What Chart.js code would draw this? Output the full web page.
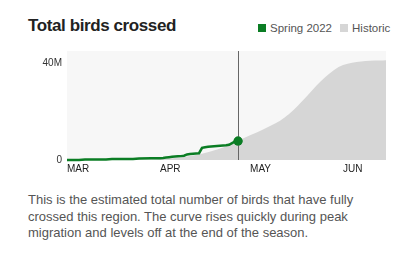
<!DOCTYPE html>
<html>
<head>
<meta charset="utf-8">
<script src="https://cdn.jsdelivr.net/npm/chart.js@4"></script>
<style>
  html, body { margin: 0; padding: 0; background: #fff; }
  body { width: 418px; height: 262px; position: relative; overflow: hidden;
         font-family: "Liberation Sans", Arial, Helvetica, sans-serif; }
  #title { position: absolute; left: 28px; top: 16px; font-size: 17px; font-weight: bold;
           color: #222; letter-spacing: -0.4px; }
  #legend { position: absolute; left: 258px; top: 22px; font-size: 11.5px; color: #555;
            white-space: nowrap; }
  #legend span.sw { display: inline-block; width: 8px; height: 8px; margin-right: 4px;
                    vertical-align: 0px; }
  #legend span.item { margin-right: 8px; }
  #wrap { position: absolute; left: 0; top: 40px; width: 400px; height: 140px; }
  #desc { position: absolute; left: 28px; top: 192px; width: 332px; font-size: 13px;
          line-height: 16.7px; color: #555; }
</style>
</head>
<body>
<div id="title">Total birds crossed</div>
<div id="legend"><span class="item"><span class="sw" style="background:#0b7d24"></span>Spring 2022</span><span><span class="sw" style="background:#d6d6d6"></span>Historic</span></div>
<div id="wrap"><canvas id="birdsChart"></canvas></div>
<div id="desc">This is the estimated total number of birds that have fully crossed this region. The curve rises quickly during peak migration and levels off at the end of the season.</div>

<script>
// dias desde el 1 de marzo
const monthLabels = ["MAR", "APR", "MAY", "JUN"];
const monthStarts = [0, 31, 61, 92];
const yTicks = [0, 40e6];
const todayDay = 57;

const springDays = [0, 4, 6, 13, 15, 22, 24, 28, 31, 32, 33, 34, 35, 36, 37, 38, 39, 40, 41, 42, 43, 44,
  45, 46, 47, 48, 49, 50, 51, 52, 53, 54, 55, 56, 57];
const springTotals = [0, 0.05, 0.2, 0.25, 0.4, 0.45, 0.65, 0.7, 0.75, 0.85, 1.0, 1.15, 1.3, 1.4, 1.5, 1.6, 1.75, 2.3, 2.5, 2.6, 2.7, 2.8,
  5.0, 5.3, 5.5, 5.6, 5.7, 5.8, 5.9, 6.0, 6.1, 6.3, 7.0, 7.7, 7.8].map(v => v * 1e6);

const histDays = [0, 10, 20, 25, 30, 35, 40, 45, 50, 54, 57, 61, 65, 68, 71, 74, 77, 80, 83, 86, 89, 92, 95, 98, 101, 104, 106.3];
const histTotals = [0, 0.02, 0.1, 0.2, 0.35, 0.7, 1.4, 2.6, 4.3, 6.2, 8.0, 10.2, 12.4, 14.2, 16.2, 19.0, 22.5, 26.4, 30.5, 34.2,
  37.2, 39.2, 40.2, 40.7, 41.0, 41.1, 41.2].map(v => v * 1e6);

const green = "#0b7d24";

document.addEventListener("DOMContentLoaded", () => {
  Chart.defaults.font.family = '"Liberation Sans", Arial, Helvetica, sans-serif';

  // fondo del area y linea de "hoy"
  const extras = {
    id: "extras",
    beforeDraw(chart) {
      const a = chart.chartArea;
      const c = chart.ctx;
      c.save();
      c.fillStyle = "#f7f7f7";
      c.fillRect(a.left, a.top, a.right - a.left, a.bottom - a.top);
      c.restore();
    },
    afterDatasetsDraw(chart) {
      const a = chart.chartArea;
      const c = chart.ctx;
      const x = Math.round(chart.scales.x.getPixelForValue(todayDay)) + 0.5;
      c.save();
      c.strokeStyle = "#666";
      c.lineWidth = 1;
      c.beginPath();
      c.moveTo(x, a.top);
      c.lineTo(x, a.bottom);
      c.stroke();
      // redibujar el punto encima de la linea
      const meta = chart.getDatasetMeta(0);
      const last = meta.data[meta.data.length - 1];
      c.fillStyle = green;
      c.beginPath();
      c.arc(last.x, last.y, 4.5, 0, Math.PI * 2);
      c.fill();
      c.restore();
    }
  };

  const ctx = document.getElementById("birdsChart").getContext("2d");
  new Chart(ctx, {
    type: "line",
    data: {
      datasets: [
        {
          label: "Spring 2022",
          data: springDays.map((d, i) => ({ x: d, y: springTotals[i] })),
          borderColor: green,
          backgroundColor: green,
          borderWidth: 2.5,
          pointRadius: (c) => (c.dataIndex === springDays.length - 1 ? 4.5 : 0),
          pointBorderWidth: 0,
          tension: 0,
          fill: false,
          clip: false,
        },
        {
          label: "Historic",
          data: histDays.map((d, i) => ({ x: d, y: histTotals[i] })),
          borderWidth: 0,
          borderColor: "rgba(0,0,0,0)",
          backgroundColor: "#d6d6d6",
          pointRadius: 0,
          cubicInterpolationMode: "monotone",
          fill: "origin",
        },
      ],
    },
    options: {
      responsive: true,
      maintainAspectRatio: false,
      animation: false,
      layout: { padding: { top: 8, right: 14, left: 0, bottom: 0 } },
      plugins: {
        legend: { display: false },
        tooltip: { enabled: false },
      },
      scales: {
        x: {
          type: "linear",
          min: 0,
          max: 106.3,
          afterBuildTicks: (axis) => { axis.ticks = monthStarts.map((v) => ({ value: v })); },
          afterFit: (axis) => { axis.height = 20; },
          grid: { display: false, drawTicks: false },
          border: { display: false },
          ticks: {
            callback: (v) => monthLabels[monthStarts.indexOf(v)],
            align: "start",
            padding: 3,
            maxRotation: 0,
            autoSkip: false,
            color: "#222",
            font: { size: 10 },
          },
        },
        y: {
          min: 0,
          max: 45e6,
          afterBuildTicks: (axis) => { axis.ticks = yTicks.map((v) => ({ value: v })); },
          afterFit: (axis) => { axis.width = 67; },
          grid: { display: false, drawTicks: false },
          border: { display: false },
          ticks: {
            callback: (v) => (v === 0 ? "0" : v / 1e6 + "M"),
            padding: 5,
            color: "#333",
            font: { size: 10 },
          },
        },
      },
    },
    plugins: [extras],
  });
});
</script>
</body>
</html>
